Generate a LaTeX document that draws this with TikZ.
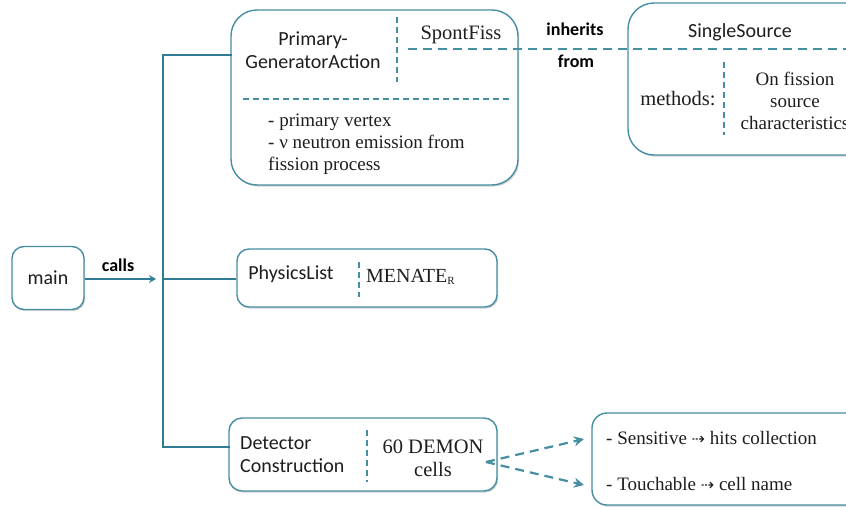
\documentclass[tikz,border=0pt]{standalone}
\usepackage{fontspec}
\newfontfamily\sansf{Carlito}
\newfontfamily\symf{DejaVu Sans}
\newfontfamily\serf{Liberation Serif}
\usetikzlibrary{arrows.meta,shadows}
\definecolor{tealbox}{RGB}{70,142,162}
\definecolor{tealline}{RGB}{48,124,148}
\definecolor{txt}{RGB}{30,30,30}
\begin{document}
\begin{tikzpicture}[x=1pt,y=-1pt,
  box/.style={draw=tealbox, line width=1.4pt, fill=white, rounded corners=#1, inner sep=0pt,
    drop shadow={shadow xshift=1.2pt, shadow yshift=-1.6pt, opacity=0.18, fill=black}},
  box/.default=12pt,
  sanst/.style={font=\sansf\fontsize{20}{23}\selectfont, inner sep=0pt, text=txt},
  serifbig/.style={font=\serf\fontsize{20.5}{23}\selectfont, inner sep=0pt, text=txt},
  serift/.style={font=\serf\fontsize{19}{22}\selectfont, inner sep=0pt, text=txt},
  lbl/.style={font=\sansf\bfseries\fontsize{18}{20}\selectfont, inner sep=0pt},
  dsh/.style={draw=tealbox, line width=2.2pt, dash pattern=on 6pt off 4pt},
  ldsh/.style={draw=tealbox, line width=2.2pt, dash pattern=on 9pt off 6pt},
  trunk/.style={draw=tealline, line width=2.5pt},
  darr/.style={ldsh, -{Stealth[length=10pt,width=10pt]}}
]
\useasboundingbox (0,0) rectangle (846,506);

% boxes
\node[box=12pt, minimum width=72pt, minimum height=63pt] (main) at (48,278) {};
\node[box=26pt, minimum width=287pt, minimum height=175pt] (pga) at (374.5,97.5) {};
\node[box=26pt, minimum width=260pt, minimum height=152pt] (ss) at (758,79) {};
\node[box=12pt, minimum width=260pt, minimum height=58pt] (pl) at (367,278) {};
\node[box=13pt, minimum width=268pt, minimum height=73pt] (dc) at (363,454.5) {};
\node[box=15pt, minimum width=290pt, minimum height=92pt] (out) at (737,459) {};

% texts
\node[sanst] (maintxt) at (main) {main};
\node[lbl] (calls) at (118,265) {calls};

\node[sanst, align=center] (pgatxt) at (313,50) {Primary-\\GeneratorAction};
\node[serifbig] (spont) at (461,35) {SpontFiss};
\node[serift, align=left, anchor=west] (pgaitems) at (268,144) {- primary vertex\\- ν neutron emission from\\fission process};

\node[lbl] (inh) at (575,29) {inherits};
\node[lbl] (from) at (576,61) {from};

\node[sanst] (sstxt) at (740,32) {SingleSource};
\node[serifbig] (meth) at (678,99) {methods:};
\node[serift, align=center] (ontxt) at (795,101) {On fission\\source\\characteristics};

\node[sanst] (pltxt) at (291,274) {PhysicsList};
\node[font=\serf\fontsize{20}{23}\selectfont, inner sep=0pt, text=txt, anchor=west] (men) at (366,277) {MENATE\raisebox{-0.25ex}{\fontsize{11}{11}\selectfont R}};

\node[sanst, align=left, anchor=west] (dctxt) at (240,455) {Detector\\Construction};
\node[serifbig, align=center] (demon) at (433,458) {60 DEMON\\cells};

\node[serift, anchor=west] (sens) at (606,438) {- Sensitive {\symf\fontsize{16}{16}\selectfont ⇢} hits collection};
\node[serift, anchor=west] (touch) at (606,484) {- Touchable {\symf\fontsize{16}{16}\selectfont ⇢} cell name};

% internal dashed separators
\coordinate (v1a) at (397,17); \coordinate (v1b) at (397,82);
\draw[dsh] (v1a) -- (v1b);
\coordinate (h1a) at (243,99); \coordinate (h1b) at (511,99);
\draw[dsh] (h1a) -- (h1b);
\coordinate (v2a) at (724,62); \coordinate (v2b) at (724,135);
\draw[dsh] (v2a) -- (v2b);
\coordinate (v3a) at (359,262); \coordinate (v3b) at (359,297);
\draw[dsh] (v3a) -- (v3b);
\coordinate (v4a) at (367,430); \coordinate (v4b) at (367,482);
\draw[dsh] (v4a) -- (v4b);

% inherits-from connector
\coordinate (inhs) at (408,49); \coordinate (inhe) at (860,49);
\draw[ldsh] (inhs) -- (inhe);

% trunk
\coordinate (t1) at (163,55);
\coordinate (tj) at (163,279);
\coordinate (t2) at (163,447);
\coordinate (ae) at (156,279);
\draw[trunk, line cap=rect] (t1 -| pga.west) -- (t1) -- (t2) -- (t2 -| dc.west);
\draw[trunk] (tj) -- (tj -| pl.west);
\draw[trunk, -{Stealth[length=7pt,width=8pt]}] (main.east |- ae) -- (ae);

% dashed arrows
\coordinate (ds) at (486,462);
\coordinate (d1) at (584,439);
\coordinate (d2) at (584,485);
\draw[darr] (ds) -- (d1);
\draw[darr] (ds) -- (d2);
\end{tikzpicture}
\end{document}
